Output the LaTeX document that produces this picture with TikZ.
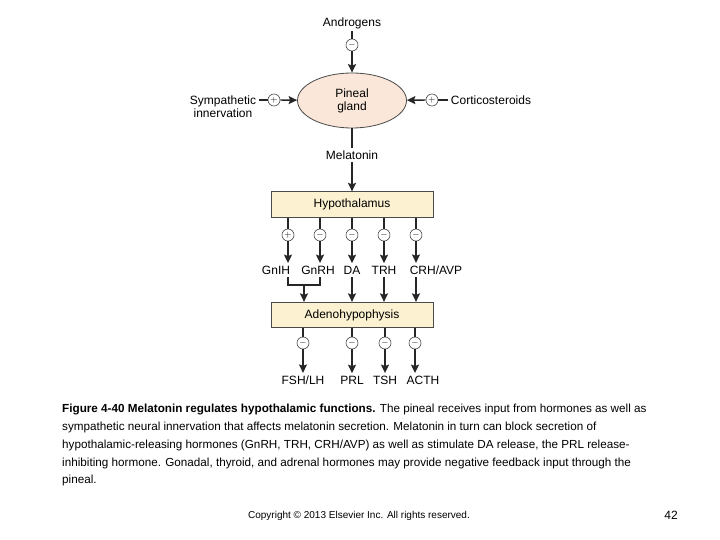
\documentclass[tikz,border=0pt]{standalone}
\usepackage{fontspec}
\setmainfont{Liberation Sans}
\usetikzlibrary{arrows.meta,shapes.geometric}
\definecolor{peach}{HTML}{FAE7D9}
\definecolor{boxfill}{HTML}{FCF1D0}
\definecolor{edge}{HTML}{4A4A4A}
\tikzset{
  lbl/.style={font=\fontsize{12}{14}\selectfont, inner sep=2.5pt, text=black},
  sgn/.style={circle, draw=edge, fill=white, minimum size=12pt, inner sep=0pt, line width=0.6pt, font=\fontsize{9}{9}\selectfont},
  ln/.style={line width=1.4pt, draw=black!85},
  arr/.style={ln, -{Stealth[length=8.5pt,width=8pt,inset=1.5pt]}},
  boxnode/.style={draw=edge, fill=boxfill, minimum width=162pt, minimum height=25.5pt, line width=0.8pt, inner sep=0pt, font=\fontsize{12}{14}\selectfont}
}
\begin{document}
\begin{tikzpicture}[x=1pt,y=-1pt]
\useasboundingbox[fill=white] (0,0) rectangle (720,540);

% pineal
\node[lbl] (andro) at (352,23) {Androgens};
\node[sgn] (sA) at (352,45) {$-$};
\node[ellipse, draw=edge, fill=peach, line width=0.8pt, minimum width=109pt, minimum height=55pt, inner sep=0pt, align=center, font=\fontsize{12}{13}\selectfont] (pineal) at (352,100.5) {Pineal\\gland};
\draw[ln] (andro) -- (sA);
\draw[arr] (sA) -- (pineal);

\node[lbl, align=center, font=\fontsize{12}{13.5}\selectfont] (symp) at (223,106.5) {Sympathetic\\innervation};
\node[sgn] (sS) at (274,100) {$+$};
\draw[ln] (sS -| symp.east) -- (sS);
\draw[arr] (sS) -- (pineal);

\node[lbl] (cort) at (491,100) {Corticosteroids};
\node[sgn] (sC) at (432,100) {$+$};
\draw[ln] (cort) -- (sC);
\draw[arr] (sC) -- (pineal);

\node[lbl] (mel) at (352,155) {Melatonin};
\node[boxnode] (hyp) at (352,204.5) {Hypothalamus};
\draw[ln] (pineal) -- (mel);
\draw[arr] (mel) -- (hyp);

% hypothalamic outputs
\node[sgn] (s1) at (288,235) {$+$};
\node[sgn] (s2) at (320,235) {$-$};
\node[sgn] (s3) at (352,235) {$-$};
\node[sgn] (s4) at (384,235) {$-$};
\node[sgn] (s5) at (416,235) {$-$};
\node[lbl] (l1) at (276,270) {GnIH};
\node[lbl] (l2) at (318,270) {GnRH};
\node[lbl] (l3) at (352,270) {DA};
\node[lbl] (l4) at (384,270) {TRH};
\node[lbl] (l5) at (436,270) {CRH/AVP};
\foreach \i in {1,...,5}{
  \draw[ln] (hyp.south -| s\i) -- (s\i);
  \draw[arr] (s\i) -- (s\i |- l\i.north);
}

\node[boxnode] (adeno) at (352,315) {Adenohypophysis};
\coordinate (br) at (304,285);
\draw[ln] (l1.south -| s1) |- (br) -| (l2.south -| s2);
\draw[arr] (br) -- (br |- adeno.north);
\foreach \i in {3,4,5}{
  \draw[arr] (l\i.south -| s\i) -- (s\i |- adeno.north);
}

% adenohypophysis outputs
\node[sgn] (t1) at (303,343) {$-$};
\node[sgn] (t2) at (352,343) {$-$};
\node[sgn] (t3) at (385,343) {$-$};
\node[sgn] (t4) at (415,343) {$-$};
\node[lbl] (m1) at (303,380) {FSH/LH};
\node[lbl] (m2) at (352,380) {PRL};
\node[lbl] (m3) at (385,380) {TSH};
\node[lbl] (m4) at (423,380) {ACTH};
\foreach \i in {1,...,4}{
  \draw[ln] (adeno.south -| t\i) -- (t\i);
  \draw[arr] (t\i) -- (t\i |- m\i.north);
}

% caption
\node[anchor=north west, align=left, inner sep=0pt, font=\fontsize{11.7}{17.8}\selectfont] (cap) at (62,404)
{\textbf{Figure 4-40 Melatonin regulates hypothalamic functions.} The pineal receives input from hormones as well as\\
sympathetic neural innervation that affects melatonin secretion. Melatonin in turn can block secretion of\\
hypothalamic-releasing hormones (GnRH, TRH, CRH/AVP) as well as stimulate DA release, the PRL release-\\
inhibiting hormone. Gonadal, thyroid, and adrenal hormones may provide negative feedback input through the\\
pineal.};
\node[font=\fontsize{10}{12}\selectfont, inner sep=0pt] (copy) at (359,516) {Copyright © 2013 Elsevier Inc. All rights reserved.};
\node[font=\fontsize{12}{14}\selectfont, inner sep=0pt] (pg) at (671,515) {42};
\end{tikzpicture}
\end{document}
